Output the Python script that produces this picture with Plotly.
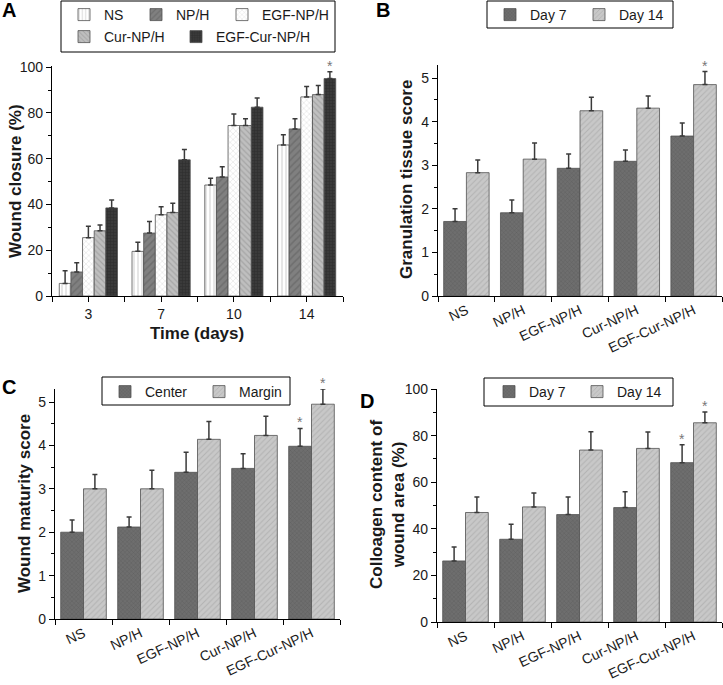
import plotly.graph_objects as go

W, H = 723, 685

# ---------------- data ----------------
days = ["3", "7", "10", "14"]
groups = ["NS", "NP/H", "EGF-NP/H", "Cur-NP/H", "EGF-Cur-NP/H"]

closure_ns = [5.5, 19.5, 48.5, 66]
closure_nph = [10.5, 27.5, 52, 73]
closure_egf = [25.5, 35.5, 74.5, 87]
closure_cur = [28.5, 36.5, 74.5, 88]
closure_egfcur = [38.5, 59.5, 82.5, 95]
closure_err_ns = [5.5, 4, 3, 4.5]
closure_err_nph = [4, 5, 4.5, 4.5]
closure_err_egf = [5, 3.5, 5, 4.5]
closure_err_cur = [2.5, 4, 3, 4]
closure_err_egfcur = [3.5, 4.5, 4, 3]

gran_day7 = [1.71, 1.91, 2.93, 3.09, 3.67]
gran_day7_err = [0.29, 0.29, 0.33, 0.26, 0.30]
gran_day14 = [2.83, 3.14, 4.25, 4.31, 4.85]
gran_day14_err = [0.29, 0.37, 0.31, 0.28, 0.30]

mat_center = [2.0, 2.12, 3.38, 3.47, 3.98]
mat_center_err = [0.28, 0.23, 0.46, 0.34, 0.41]
mat_margin = [3.0, 3.0, 4.14, 4.23, 4.95]
mat_margin_err = [0.33, 0.43, 0.41, 0.44, 0.35]

col_day7 = [26.2, 35.5, 46.1, 49.1, 68.4]
col_day7_err = [6.0, 6.5, 7.6, 6.8, 7.7]
col_day14 = [47.0, 49.4, 73.8, 74.5, 85.5]
col_day14_err = [6.6, 6.0, 7.8, 7.0, 4.6]

y_ticks_pct = [0, 20, 40, 60, 80, 100]
y_ticks_score = [0, 1, 2, 3, 4, 5]

FONT = "Liberation Sans, Arial, sans-serif"
EDGE = "#505050"
ERRC = "#3a3a3a"


def px_x(p):
    return p / W


def px_y(p):
    return 1 - p / H


fig = go.Figure()

# ---------------- panel A ----------------
a_styles = [
    dict(color="white", fg="#9a9a9a", shape="|", size=4, sol=0.25),
    dict(color="#808080", fg="#5c5c5c", shape="/", size=5, sol=0.3),
    dict(color="white", fg="#ababab", shape="x", size=4, sol=0.2),
    dict(color="#bfbfbf", fg="#8c8c8c", shape="\\", size=4, sol=0.3),
    dict(color="#3a3a3a", fg="#1c1c1c", shape="+", size=3, sol=0.3),
]
a_vals = [closure_ns, closure_nph, closure_egf, closure_cur, closure_egfcur]
a_errs = [closure_err_ns, closure_err_nph, closure_err_egf, closure_err_cur, closure_err_egfcur]
a_pos = list(range(len(days)))
a_legends = ["legend", "legend2", "legend3", "legend4", "legend5"]

for i, g in enumerate(groups):
    s = a_styles[i]
    fig.add_trace(go.Bar(
        x=a_pos, y=a_vals[i], name=g, xaxis="x", yaxis="y",
        offsetgroup=str(i), legend=a_legends[i], showlegend=True,
        marker=dict(color=s["color"], line=dict(color=EDGE, width=0.8),
                    pattern=dict(shape=s["shape"], fgcolor=s["fg"], size=s["size"],
                                 solidity=s["sol"])),
        error_y=dict(type="data", symmetric=False, array=a_errs[i],
                     arrayminus=[0] * len(days), color=ERRC, thickness=1.5, width=2.5),
    ))

# ---------------- panels B, C, D ----------------
dark = dict(color="#6e6e6e", fg="#4e4e4e", shape="x", size=3, sol=0.3)
light = dict(color="#c8c8c8", fg="#9c9c9c", shape="/", size=4, sol=0.25)

panels = [
    ("x2", "y2", "legend6", ["Day 7", "Day 14"], [gran_day7, gran_day14], [gran_day7_err, gran_day14_err]),
    ("x3", "y3", "legend7", ["Center", "Margin"], [mat_center, mat_margin], [mat_center_err, mat_margin_err]),
    ("x4", "y4", "legend8", ["Day 7", "Day 14"], [col_day7, col_day14], [col_day7_err, col_day14_err]),
]
for xa, ya, lg, names, vals, errs in panels:
    for j, s in enumerate([dark, light]):
        fig.add_trace(go.Bar(
            x=groups, y=vals[j], name=names[j], xaxis=xa, yaxis=ya,
            offsetgroup=str(j), legend=lg, showlegend=True,
            marker=dict(color=s["color"], line=dict(color=EDGE, width=0.8),
                        pattern=dict(shape=s["shape"], fgcolor=s["fg"], size=s["size"],
                                     solidity=s["sol"])),
            error_y=dict(type="data", symmetric=False, array=errs[j],
                         arrayminus=[0] * len(groups), color=ERRC, thickness=1.5, width=2.5),
        ))

# ---------------- axes ----------------
tickfont = dict(family=FONT, size=14, color="#1a1a1a")
common_y = dict(showline=True, linecolor="black", linewidth=1.3, ticks="outside",
                ticklen=5, tickcolor="black", tickwidth=1.2, showgrid=False, zeroline=False,
                tickfont=tickfont, fixedrange=True, automargin=False)
common_x = dict(showline=True, linecolor="black", linewidth=1.3, ticks="outside",
                ticklen=5, tickcolor="black", tickwidth=1.2, showgrid=False, zeroline=False,
                tickfont=tickfont, fixedrange=True, automargin=False)

layout = dict(
    width=W, height=H, margin=dict(l=0, r=0, t=0, b=0, autoexpand=False),
    paper_bgcolor="white", plot_bgcolor="white", showlegend=True,
    barmode="group", bargap=0.2, bargroupgap=0,
    font=dict(family=FONT, color="#1a1a1a"),
    xaxis=dict(common_x, domain=[px_x(52), px_x(343)], anchor="y", range=[-0.5, len(days) - 0.5],
               tickvals=a_pos, ticktext=days,
               minor=dict(dtick=0.5, tick0=-0.5, ticks="outside", ticklen=5, tickcolor="black")),
    yaxis=dict(common_y, domain=[px_y(296), px_y(66)], anchor="x", range=[0, 100.5],
               tickvals=y_ticks_pct,
               minor=dict(dtick=10, ticks="outside", ticklen=3, tickcolor="black")),
    xaxis2=dict(common_x, domain=[px_x(438), px_x(722)], anchor="y2", type="category",
                tickson="boundaries", tickangle=-25),
    yaxis2=dict(common_y, domain=[px_y(296), px_y(65)], anchor="x2", range=[0, 5.3],
                tickvals=y_ticks_score,
                minor=dict(dtick=0.5, ticks="outside", ticklen=3, tickcolor="black")),
    xaxis3=dict(common_x, domain=[px_x(55), px_x(340)], anchor="y3", type="category",
                tickson="boundaries", tickangle=-25),
    yaxis3=dict(common_y, domain=[px_y(619), px_y(389)], anchor="x3", range=[0, 5.3],
                tickvals=y_ticks_score,
                minor=dict(dtick=0.5, ticks="outside", ticklen=3, tickcolor="black")),
    xaxis4=dict(common_x, domain=[px_x(437), px_x(722)], anchor="y4", type="category",
                tickson="boundaries", tickangle=-25),
    yaxis4=dict(common_y, domain=[px_y(622), px_y(389)], anchor="x4", range=[0, 100],
                tickvals=y_ticks_pct,
                minor=dict(dtick=10, ticks="outside", ticklen=3, tickcolor="black")),
)

legfont = dict(family=FONT, size=14, color="#1a1a1a")


def leg(xc, yc, entrywidth=None):
    d = dict(x=px_x(xc - 20), y=px_y(yc), xanchor="left", yanchor="middle",
             orientation="h", bgcolor="rgba(0,0,0,0)", borderwidth=0, font=legfont,
             itemclick=False, itemdoubleclick=False, visible=True)
    if entrywidth:
        d["entrywidth"] = entrywidth
        d["entrywidthmode"] = "pixels"
    return d


layout["legend"] = leg(84, 15)
layout["legend2"] = leg(156, 15)
layout["legend3"] = leg(242, 15)
layout["legend4"] = leg(84, 37)
layout["legend5"] = leg(196, 37)
layout["legend6"] = leg(510, 15, 44)
layout["legend7"] = leg(125, 392, 49)
layout["legend8"] = leg(509, 392, 43)

fig.update_layout(**layout)

# legend boxes
for (x0, y0, x1, y1) in [(61, 1, 335, 52), (487, 1, 673, 28), (102, 377, 290, 405), (484, 378, 673, 406)]:
    fig.add_shape(type="rect", xref="paper", yref="paper",
                  x0=px_x(x0), x1=px_x(x1), y0=px_y(y1), y1=px_y(y0),
                  line=dict(color="black", width=1), fillcolor="rgba(0,0,0,0)", layer="above")

# ---------------- text ----------------
title_font = dict(family=FONT, size=17, color="#1a1a1a")
letter_font = dict(family=FONT, size=20, color="black")
ann = []
for txt, x, y in [("<b>A</b>", 0, -3), ("<b>B</b>", 374, -3), ("<b>C</b>", 0, 374), ("<b>D</b>", 358, 388)]:
    ann.append(dict(text=txt, x=px_x(x), y=px_y(y), xref="paper", yref="paper",
                    xanchor="left", yanchor="top", showarrow=False, font=letter_font))


def title(txt, x, y, angle=-90):
    return dict(text=txt, x=px_x(x), y=px_y(y), xref="paper", yref="paper",
                xanchor="center", yanchor="middle", textangle=angle, showarrow=False,
                font=title_font)


ann.append(title("<b>Wound closure (%)</b>", 15, 181))
ann.append(title("<b>Time (days)</b>", 197, 333, 0))
ann.append(title("<b>Granulation tissue score</b>", 406, 180))
ann.append(title("<b>Wound maturity score</b>", 25, 504))
ann.append(title("<b>Colloagen content of<br>wound area (%)</b>", 387, 505))

star_font = dict(family=FONT, size=14, color="#777777")
# A: last group, last bar
gw = 1 - 0.2
nA = len(groups)
offA = -gw / 2 + gw / nA * (nA - 0.5)
ann.append(dict(text="*", x=a_pos[-1] + offA, y=closure_egfcur[-1] + closure_err_egfcur[-1],
                xref="x", yref="y", yanchor="bottom", showarrow=False, font=star_font, yshift=-4))
# two-bar panels
off1 = -gw / 2 + gw / 2 * 0.5
off2 = -gw / 2 + gw / 2 * 1.5
last = len(groups) - 1
ann.append(dict(text="*", x=last + off2, y=gran_day14[-1] + gran_day14_err[-1], xref="x2", yref="y2",
                yanchor="bottom", showarrow=False, font=star_font, yshift=-4))
ann.append(dict(text="*", x=last + off1, y=mat_center[-1] + mat_center_err[-1], xref="x3", yref="y3",
                yanchor="bottom", showarrow=False, font=star_font, yshift=-4))
ann.append(dict(text="*", x=last + off2, y=mat_margin[-1] + mat_margin_err[-1], xref="x3", yref="y3",
                yanchor="bottom", showarrow=False, font=star_font, yshift=-4))
ann.append(dict(text="*", x=last + off1, y=col_day7[-1] + col_day7_err[-1], xref="x4", yref="y4",
                yanchor="bottom", showarrow=False, font=star_font, yshift=-4))
ann.append(dict(text="*", x=last + off2, y=col_day14[-1] + col_day14_err[-1], xref="x4", yref="y4",
                yanchor="bottom", showarrow=False, font=star_font, yshift=-4))
fig.update_layout(annotations=ann)

fig.write_html("out.html", config={"displayModeBar": False, "staticPlot": False},
               post_script="document.body.style.margin='0';")
